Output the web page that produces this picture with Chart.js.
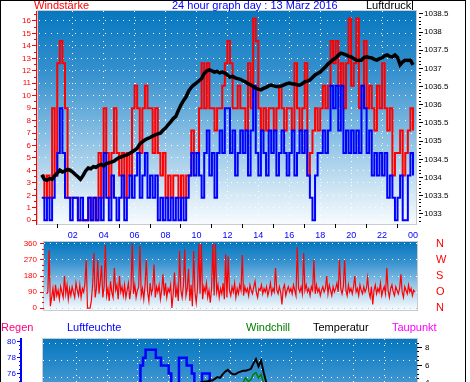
<!DOCTYPE html>
<html lang="de">
<head>
<meta charset="UTF-8">
<title>24 hour graph</title>
<script src="https://cdn.jsdelivr.net/npm/chart.js"></script>
<style>
    html, body { margin: 0; padding: 0; overflow: hidden; width: 470px; height: 382px; background: #fff; }
    body { font-family: "Liberation Sans", Arial, sans-serif; position: relative; }
    #frame { position: absolute; left: 0; top: 0; width: 466px; height: 420px; box-sizing: border-box;
             border: 1px solid #000; border-bottom: none; }
    canvas { position: absolute; left: 0; }
    .lbl { position: absolute; font-size: 11px; line-height: 11px; white-space: nowrap; }
</style>
</head>
<body>
<div id="frame"></div>
<canvas id="topChart" width="466" height="240" style="top:0"></canvas>
<canvas id="dirChart" width="466" height="88" style="top:232px"></canvas>
<canvas id="climaChart" width="466" height="144" style="top:330px"></canvas>

<div class="lbl" style="left:34px;top:0;color:#ff0000">Windstärke</div>
<div class="lbl" style="left:172px;top:0;color:#0000ff">24 hour graph day : 13 März 2016</div>
<div class="lbl" style="left:366px;top:0;color:#000">Luftdruck</div>
<div style="position:absolute;left:412px;top:0;width:1px;height:10px;background:#000"></div>

<div class="lbl" style="left:1px;top:322px;color:#ff0080">Regen</div>
<div class="lbl" style="left:67px;top:322px;color:#0000ff">Luftfeuchte</div>
<div class="lbl" style="left:246px;top:322px;color:#008000">Windchill</div>
<div class="lbl" style="left:313px;top:322px;color:#000">Temperatur</div>
<div class="lbl" style="left:392px;top:322px;color:#ff00ff">Taupunkt</div>

<script>
// minutes between samples (00:00 .. 24:00)
const STEP = 10;
const DIR_STEP = 5;

const timeLabels = ['02', '04', '06', '08', '10', '12', '14', '16', '18', '20', '22', '00'];
const windTicks = [0, 1, 2, 3, 4, 5, 6, 7, 8, 9, 10, 11, 12, 13, 14, 15, 16];
const pressureTicks = [1033, 1033.5, 1034, 1034.5, 1035, 1035.5, 1036, 1036.5, 1037, 1037.5, 1038, 1038.5];
const dirTicks = [0, 90, 180, 270, 360];
const dirLabels = ['N', 'O', 'S', 'W', 'N'];
const humTicks = [66, 68, 70, 72, 74, 76, 78, 80];
const tempTicks = [-4, -2, 0, 2, 4, 6, 8];

// Windstärke (Böen, rot)
const windGust = [
    3.6, 1.8, 3.6, 1.8, 9, 3.6,   12.6, 14.4, 12.6, 9, 1.8, 1.8,
    1.8, 1.8, 0, 0, 0, 0,         1.8, 0, 1.8, 0, 5.4, 1.8,
    9, 5.4, 1.8, 5.4, 9, 5.4,     3.6, 5.4, 1.8, 5.4, 3.6, 9,
    10.8, 9, 5.4, 9, 10.8, 9,     9, 5.4, 9, 5.4, 3.6, 5.4,
    1.8, 3.6, 1.8, 3.6, 3.6, 1.8, 3.6, 1.8, 3.6, 3.6, 7.2, 5.4,
    5.4, 9, 12.6, 9, 12.6, 9,     9, 7.2, 9, 9, 10.8, 12.6,
    14.4, 12.6, 9, 9, 10.8, 9,    9, 7.2, 12.6, 9, 16.2, 14.4,
    9, 7.2, 9, 7.2, 9, 9,         7.2, 9, 10.8, 9, 7.2, 9,
    9, 7.2, 12.6, 9, 7.2, 9,      12.6, 3.6, 5.4, 7.2, 9, 7.2,
    9, 10.8, 9, 10.8, 14.4, 12.6, 14.4, 10.8, 12.6, 9, 12.6, 16.2,
    10.8, 12.6, 16.2, 9, 10.8, 14.4, 9, 10.8, 9, 7.2, 10.8, 9,
    12.6, 9, 7.2, 9, 3.6, 5.4,    5.4, 7.2, 3.6, 5.4, 7.2, 9,
    7.2
];

// Windstärke (Mittel, blau)
const windAvg = [
    1.8, 0, 1.8, 0, 1.8, 3.6,     5.4, 9, 5.4, 1.8, 1.8, 0,
    1.8, 1.8, 0, 1.8, 0, 0,       1.8, 0, 1.8, 0, 1.8, 0,
    5.4, 1.8, 0, 3.6, 1.8, 0,     1.8, 3.6, 0, 1.8, 3.6, 1.8,
    3.6, 5.4, 1.8, 3.6, 5.4, 1.8, 3.6, 1.8, 3.6, 0, 1.8, 0,
    1.8, 0, 1.8, 0, 1.8, 0,       1.8, 0, 1.8, 3.6, 5.4, 3.6,
    5.4, 3.6, 1.8, 5.4, 7.2, 3.6, 5.4, 1.8, 5.4, 7.2, 5.4, 9,
    9, 5.4, 7.2, 3.6, 5.4, 7.2,   5.4, 7.2, 3.6, 7.2, 10.8, 5.4,
    3.6, 7.2, 5.4, 3.6, 7.2, 5.4, 7.2, 3.6, 5.4, 7.2, 5.4, 3.6,
    5.4, 7.2, 3.6, 5.4, 7.2, 5.4, 7.2, 3.6, 1.8, 0, 3.6, 5.4,
    5.4, 7.2, 5.4, 7.2, 10.8, 9,  10.8, 7.2, 10.8, 5.4, 7.2, 5.4,
    7.2, 5.4, 7.2, 5.4, 10.8, 9,  5.4, 7.2, 3.6, 5.4, 3.6, 5.4,
    3.6, 5.4, 1.8, 3.6, 1.8, 0,   1.8, 3.6, 0, 0, 3.6, 5.4,
    3.6
];

// Luftdruck hPa
const pressure = [
    1034.07, 1033.95, 1033.92, 1033.97, 1033.95, 1034.05, 1034.12, 1034.2, 1034.15, 1034.18, 1034.22, 1034.2,
    1034.15, 1034.08, 1034.02, 1033.95, 1034.05, 1034.18, 1034.26, 1034.24, 1034.3, 1034.28, 1034.33, 1034.36,
    1034.32, 1034.38, 1034.4, 1034.42, 1034.45, 1034.5, 1034.55, 1034.57, 1034.6, 1034.62, 1034.66, 1034.7,
    1034.75, 1034.8, 1034.92, 1034.98, 1035.03, 1035.07, 1035.1, 1035.14, 1035.17, 1035.2, 1035.22, 1035.3,
    1035.36, 1035.45, 1035.53, 1035.62, 1035.68, 1035.85, 1036.0, 1036.12, 1036.22, 1036.38, 1036.48, 1036.55,
    1036.6, 1036.66, 1036.72, 1036.86, 1036.93, 1036.96, 1036.93, 1036.9, 1036.92, 1036.88, 1036.9, 1036.87,
    1036.82, 1036.76, 1036.78, 1036.74, 1036.72, 1036.7, 1036.66, 1036.63, 1036.58, 1036.55, 1036.5, 1036.46,
    1036.43, 1036.41, 1036.45, 1036.48, 1036.52, 1036.54, 1036.52, 1036.5, 1036.5, 1036.52, 1036.55, 1036.58,
    1036.6, 1036.58, 1036.57, 1036.55, 1036.54, 1036.58, 1036.63, 1036.65, 1036.68, 1036.75, 1036.82, 1036.86,
    1036.9, 1036.97, 1037.04, 1037.12, 1037.18, 1037.24, 1037.29, 1037.36, 1037.42, 1037.4, 1037.37, 1037.34,
    1037.32, 1037.27, 1037.23, 1037.22, 1037.23, 1037.3, 1037.32, 1037.3, 1037.29, 1037.25, 1037.23, 1037.27,
    1037.29, 1037.35, 1037.37, 1037.33, 1037.32, 1037.37, 1037.3, 1037.1, 1037.18, 1037.23, 1037.22, 1037.23,
    1037.1
];

// Windrichtung in Grad, alle 5 Minuten
const windDir = [
    80, 90, 325, 10, 60, 110, 40, 130, 70, 100, 50, 120,
    90, 60, 180, 80, 130, 50, 110, 70, 120, 90, 60, 140,
    100, 70, 130, 60, 110, 90, 140, 270, 0, 0, 0, 40,
    130, 311, 60, 110, 270, 80, 150, 240, 60, 120, 354, 70,
    110, 40, 150, 90, 60, 225, 100, 130, 50, 180, 90, 120,
    70, 130, 60, 100, 140, 50, 110, 360, 80, 130, 60, 100,
    120, 350, 70, 110, 50, 130, 270, 90, 40, 140, 80, 110,
    245, 60, 120, 90, 130, 50, 100, 190, 70, 140, 60, 110,
    90, 130, 0, 80, 200, 60, 120, 40, 320, 100, 60, 130,
    330, 70, 110, 220, 40, 130, 10, 320, 90, 30, 110, 360,
    80, 360, 50, 120, 90, 140, 60, 100, 30, 110, 360, 70,
    360, 90, 130, 60, 110, 80, 140, 50, 300, 60, 290, 100,
    70, 120, 90, 140, 60, 110, 80, 130, 100, 298, 70, 120,
    90, 110, 70, 130, 100, 80, 120, 150, 90, 60, 110, 100,
    130, 80, 110, 90, 120, 70, 100, 140, 80, 110, 90, 225,
    100, 80, 120, 90, 20, 110, 130, 70, 100, 120, 90, 110,
    80, 130, 100, 70, 341, 110, 90, 120, 80, 309, 100, 130,
    90, 110, 70, 120, 100, 270, 80, 130, 90, 110, 70, 100,
    120, 90, 110, 180, 80, 130, 100, 70, 120, 90, 110, 140,
    90, 270, 110, 80, 120, 270, 100, 70, 130, 90, 110, 80,
    120, 180, 90, 110, 70, 130, 100, 80, 120, 90, 110, 170,
    90, 60, 120, 20, 100, 130, 80, 110, 90, 140, 70, 100,
    120, 80, 225, 100, 60, 110, 130, 90, 70, 120, 100, 80,
    110, 190, 90, 60, 120, 100, 80, 130, 90, 110, 70, 100,
    90
];

// Luftfeuchte %
const humidity = [
    73, 73, 73, 74, 74, 74, 74, 74, 73, 73, 73, 73,
    73, 73, 74, 74, 74, 74, 74, 74, 74, 74, 74, 74,
    74, 74, 74, 74, 74, 74, 74, 74, 74, 74, 74, 74,
    74, 77, 78, 79, 79, 79, 79, 78, 78, 77, 77, 77,
    76, 74, 74, 74, 78, 78, 78, 77, 77, 76, 74, 74,
    74, 76, 76, 76, 74, 74, 73, 73, 72, 72, 71, 71,
    70, 70, 69, 69, 68, 68, 67, 67, 66, 66, 66, 65,
    65, 65, 64, 64, 64, 64, 63, 63, 63, 63, 63, 63,
    63, 64, 64, 64, 64, 65, 65, 65, 66, 66, 66, 67,
    67, 67, 68, 68, 68, 69, 69, 69, 70, 70, 70, 70,
    71, 71, 71, 71, 72, 72, 72, 72, 72, 73, 73, 73,
    73, 73, 73, 74, 74, 74, 74, 74, 74, 74, 74, 74,
    74
];

// Temperatur °C
const temperature = [
    1.5, 1.4, 1.4, 1.3, 1.2, 1.2, 1.1, 1.0, 1.0, 0.9, 0.9, 0.8,
    0.8, 0.7, 0.7, 0.6, 0.6, 0.5, 0.5, 0.5, 0.4, 0.4, 0.4, 0.3,
    0.3, 0.3, 0.3, 0.4, 0.4, 0.5, 0.5, 0.6, 0.7, 0.8, 0.9, 1.0,
    1.1, 1.2, 1.4, 1.5, 1.7, 1.9, 2.0, 2.2, 2.4, 2.5, 2.7, 2.9,
    3.0, 3.1, 3.2, 3.3, 3.4, 3.5, 3.6, 3.7, 3.8, 3.9, 4.0, 4.0,
    4.1, 4.1, 4.2, 4.2, 4.3, 4.3, 4.5, 4.7, 4.6, 5.0, 5.3, 5.5,
    5.2, 5.0, 5.0, 5.2, 5.3, 5.4, 5.4, 5.5, 5.6, 6.2, 6.7, 5.9,
    6.5, 5.2, 4.1, 3.9, 3.8, 3.7, 3.6, 3.6, 3.5, 3.4, 3.4, 3.3,
    3.3, 3.2, 3.1, 3.0, 2.9, 2.8, 2.7, 2.6, 2.5, 2.4, 2.3, 2.2,
    2.1, 2.0, 1.9, 1.8, 1.7, 1.6, 1.5, 1.4, 1.3, 1.2, 1.1, 1.0,
    0.9, 0.9, 0.8, 0.8, 0.7, 0.7, 0.6, 0.6, 0.5, 0.5, 0.4, 0.4,
    0.3, 0.3, 0.3, 0.2, 0.2, 0.2, 0.1, 0.1, 0.1, 0.0, 0.0, 0.0,
    0.0
];

// Windchill °C
const windchill = [
    -0.5, -0.8, -0.6, -0.9, -1.0, -0.8, -1.2, -1.4, -1.1, -0.9, -0.7, -0.8,
    -0.9, -1.2, -1.0, -1.0, -1.1, -1.3, -1.1, -1.0, -1.2, -1.1, -1.4, -1.2,
    -1.5, -1.3, -1.2, -1.4, -1.3, -1.1, -1.2, -1.0, -0.8, -1.0, -0.7, -0.9,
    -0.8, -0.6, -0.4, -0.3, -0.2, 0.2, 0.3, 0.4, 0.8, 1.0, 1.1, 1.4,
    1.6, 1.8, 1.9, 2.0, 2.1, 2.3, 2.4, 2.5, 2.6, 2.8, 2.9, 3.0,
    3.0, 3.1, 3.2, 3.2, 3.3, 3.3, 3.4, 3.5, 3.5, 3.7, 3.9, 4.0,
    3.9, 3.8, 3.8, 3.9, 4.0, 4.1, 4.6, 4.2, 4.4, 5.0, 5.2, 4.6,
    5.0, 4.0, 3.2, 3.0, 2.9, 2.8, 2.7, 2.6, 2.5, 2.4, 2.3, 2.2,
    2.1, 2.0, 1.9, 1.8, 1.7, 1.6, 1.5, 1.4, 1.3, 1.2, 1.1, 1.0,
    0.9, 0.8, 0.7, 0.6, 0.5, 0.4, 0.3, 0.2, 0.1, 0.0, -0.1, -0.2,
    -0.3, -0.3, -0.4, -0.4, -0.5, -0.5, -0.6, -0.6, -0.7, -0.7, -0.8, -0.8,
    -0.9, -0.9, -0.9, -1.0, -1.0, -1.0, -1.1, -1.1, -1.1, -1.2, -1.2, -1.2,
    -1.2
];

// Taupunkt °C
const dewpoint = [
    -2.3, -2.3, -2.3, -2.2, -2.2, -2.2, -2.3, -2.3, -2.4, -2.4, -2.5, -2.5,
    -2.6, -2.6, -2.6, -2.6, -2.7, -2.7, -2.7, -2.7, -2.8, -2.8, -2.8, -2.8,
    -2.8, -2.8, -2.8, -2.7, -2.7, -2.6, -2.6, -2.5, -2.4, -2.3, -2.2, -2.1,
    -2.0, -1.7, -1.4, -1.2, -1.0, -0.8, -0.7, -0.7, -0.6, -0.6, -0.4, -0.2,
    -0.3, -0.4, -0.3, -0.2, 0.0, 0.0, 0.1, 0.1, 0.2, 0.2, 0.1, 0.1,
    0.2, 0.3, 0.4, 0.4, 0.3, 0.3, 0.3, 0.4, 0.2, 0.4, 0.5, 0.6,
    0.3, 0.1, -0.1, 0.0, -0.1, -0.1, -0.2, -0.2, -0.3, 0.2, 0.5, -0.1,
    0.3, -0.8, -1.6, -1.8, -2.0, -2.1, -2.3, -2.3, -2.4, -2.5, -2.6, -2.7,
    -2.8, -2.8, -2.9, -3.0, -3.1, -3.0, -3.1, -3.2, -3.2, -3.3, -3.4, -3.3,
    -3.4, -3.5, -3.4, -3.5, -3.6, -3.5, -3.6, -3.7, -3.7, -3.8, -3.9, -4.0,
    -4.0, -4.0, -4.1, -4.1, -4.0, -4.1, -4.1, -4.2, -4.2, -4.1, -4.2, -4.2,
    -4.3, -4.3, -4.3, -4.2, -4.2, -4.2, -4.3, -4.3, -4.3, -4.4, -4.4, -4.4,
    -4.4
];

// ---- helpers ----
const toPoints = (arr, step = STEP) => arr.map((v, i) => ({ x: i * step, y: v }));
const ticksFrom = list => scale => { scale.ticks = list.map(v => ({ value: v })); };
const steps = (from, to, by) => {
    const out = [];
    for (let k = Math.round(from / by); k <= Math.round(to / by); k++) out.push(+(k * by).toFixed(3));
    return out;
};
const hourMarks = steps(0, 1440, 60);
const isEvenHour = v => v % 120 === 0 && v > 0 && v < 1440;
const clear = 'rgba(0,0,0,0)';
const DOTS = [1, 5];

const spacer = (position, weight, width) => ({
    position, weight, min: 0, max: 1,
    afterFit: s => { s.width = width; },
    ticks: { display: false }, grid: { display: false }, border: { display: false }
});
const minorAxis = (position, weight, min, max, list, color) => ({
    position, weight, min, max,
    afterBuildTicks: ticksFrom(list),
    afterFit: s => { s.width = 0; },
    ticks: { display: false },
    grid: { drawOnChartArea: false, tickColor: color, tickLength: 2 },
    border: { display: false }
});

const plotBackground = {
    id: 'plotBackground',
    beforeDraw(chart) {
        const { ctx, chartArea: a } = chart;
        const g = ctx.createLinearGradient(0, a.top, 0, a.bottom);
        g.addColorStop(0, '#0677bf');
        g.addColorStop(0.3, '#3892cf');
        g.addColorStop(0.6, '#8cc1e4');
        g.addColorStop(0.85, '#d2e7f5');
        g.addColorStop(1, '#f7fbfe');
        ctx.save();
        ctx.fillStyle = g;
        ctx.fillRect(a.left, a.top, a.right - a.left, a.bottom - a.top);
        ctx.strokeStyle = '#c8ccd0';
        ctx.lineWidth = 1;
        ctx.strokeRect(a.left - 0.5, a.top - 0.5, a.right - a.left + 1, a.bottom - a.top + 1);
        ctx.restore();
    }
};

Chart.defaults.font.family = '"Liberation Sans", Arial, sans-serif';
Chart.defaults.font.size = 8;

const common = {
    responsive: false,
    animation: false,
    events: [],
    plugins: { legend: { display: false }, tooltip: { enabled: false } },
    elements: { point: { radius: 0 }, line: { tension: 0 } }
};

// ---- Windstärke / Luftdruck ----
new Chart(document.getElementById('topChart'), {
    type: 'line',
    data: {
        datasets: [
            { label: 'Luftdruck', data: toPoints(pressure), yAxisID: 'yp', borderColor: '#000', borderWidth: 3.5, order: 1 },
            { label: 'Wind', data: toPoints(windAvg), yAxisID: 'y', borderColor: '#0000ff', borderWidth: 2, stepped: true, order: 2 },
            { label: 'Böen', data: toPoints(windGust), yAxisID: 'y', borderColor: '#ff0000', borderWidth: 2, stepped: true, order: 3 }
        ]
    },
    options: {
        ...common,
        layout: { padding: { top: 11, left: 0, right: 0, bottom: 0 } },
        scales: {
            x: {
                type: 'linear', min: -14.7, max: 1451.6,
                afterBuildTicks: ticksFrom(hourMarks),
                afterFit: s => { s.height = 16; },
                ticks: {
                    autoSkip: false, maxRotation: 0, color: '#0000ff', font: { size: 9 }, padding: 2,
                    callback: v => (v % 120 === 0 && v > 0) ? timeLabels[v / 120 - 1] : ''
                },
                grid: {
                    color: c => c.tick && isEvenHour(c.tick.value) ? '#ffffff' : clear,
                    tickColor: c => c.tick && c.tick.value % 120 === 60 ? '#000' : clear,
                    tickLength: 4
                },
                border: { display: false, dash: DOTS }
            },
            y: {
                position: 'left', weight: 2, min: -0.3, max: 16.8,
                afterBuildTicks: ticksFrom(windTicks),
                afterFit: s => { s.width = 36; },
                ticks: { color: '#ff0000', padding: 1, autoSkip: false },
                grid: { color: '#ffffff', tickColor: '#ff0000', tickLength: 4 },
                border: { display: true, color: '#ff0000', width: 1, dash: DOTS }
            },
            yMinor: minorAxis('left', 1, -0.3, 16.8, steps(0, 16.5, 0.5), '#ff0000'),
            ySp: spacer('left', 0, 2),
            ySpR: spacer('right', 0, 3),
            ypMinor: minorAxis('right', 1, 1032.72, 1038.58, steps(1032.8, 1038.5, 0.1), '#000'),
            yp: {
                position: 'right', weight: 2, min: 1032.72, max: 1038.58,
                afterBuildTicks: ticksFrom(pressureTicks),
                afterFit: s => { s.width = 47; },
                ticks: { color: '#000', padding: 1, autoSkip: false, callback: v => String(v) },
                grid: { drawOnChartArea: false, tickColor: '#000', tickLength: 4 },
                border: { display: false }
            }
        }
    },
    plugins: [plotBackground]
});

// ---- Windrichtung ----
new Chart(document.getElementById('dirChart'), {
    type: 'line',
    data: {
        datasets: [
            { label: 'Windrichtung', data: toPoints(windDir, DIR_STEP), yAxisID: 'y', borderColor: '#ff0000', borderWidth: 1.2 }
        ]
    },
    options: {
        ...common,
        layout: { padding: { top: 10, left: 0, right: 0, bottom: 10 } },
        scales: {
            x: { type: 'linear', min: -10, max: 1448, display: false },
            y: {
                position: 'left', weight: 1, min: -11, max: 371,
                afterBuildTicks: ticksFrom(dirTicks),
                afterFit: s => { s.width = 44; },
                ticks: { color: '#ff0000', padding: 3, autoSkip: false },
                grid: { color: c => c.tick && c.tick.value === 0 ? '#c0c4c8' : '#ffffff', tickColor: '#ff0000', tickLength: 4 },
                border: { display: false, dash: DOTS }
            },
            yMinor: minorAxis('left', 0, -11, 371, steps(0, 360, 30), '#ff0000'),
            yR: {
                position: 'right', weight: 0, min: -11, max: 371,
                afterBuildTicks: ticksFrom(dirTicks),
                afterFit: s => { s.width = 49; },
                ticks: { color: '#ff0000', font: { size: 11 }, padding: 2, autoSkip: false,
                         callback: v => dirLabels[dirTicks.indexOf(v)] },
                grid: { drawOnChartArea: false, tickColor: clear, tickLength: 17 },
                border: { display: false }
            }
        }
    },
    plugins: [plotBackground]
});

// ---- Luftfeuchte / Temperatur ----
new Chart(document.getElementById('climaChart'), {
    type: 'line',
    data: {
        datasets: [
            { label: 'Temperatur', data: toPoints(temperature), yAxisID: 'yt', borderColor: '#000', borderWidth: 2, order: 1 },
            { label: 'Windchill', data: toPoints(windchill), yAxisID: 'yt', borderColor: '#008000', borderWidth: 1.5, order: 2 },
            { label: 'Taupunkt', data: toPoints(dewpoint), yAxisID: 'yt', borderColor: '#ff00ff', borderWidth: 1.5, order: 3 },
            { label: 'Luftfeuchte', data: toPoints(humidity), yAxisID: 'yh', borderColor: '#0000ff', borderWidth: 2.5, stepped: true, order: 4 }
        ]
    },
    options: {
        ...common,
        layout: { padding: { top: 9, left: 0, right: 0, bottom: 0 } },
        scales: {
            x: {
                type: 'linear', min: -9.7, max: 1447.4,
                afterBuildTicks: ticksFrom(hourMarks),
                afterFit: s => { s.height = 0; },
                ticks: { display: false },
                grid: { color: c => c.tick && isEvenHour(c.tick.value) ? '#ffffff' : clear, drawTicks: false },
                border: { display: false, dash: DOTS }
            },
            yg: {
                position: 'left', weight: 0, min: -7.206, max: 0.294,
                afterBuildTicks: ticksFrom(steps(-7, 0, 1)),
                afterFit: s => { s.width = 22; },
                ticks: { display: false },
                grid: { color: '#ffffff', drawTicks: false },
                border: { display: false, dash: DOTS }
            },
            yhMinor: minorAxis('left', 1, 64.29, 80.357, steps(64.5, 80, 0.5), '#0000ff'),
            yh: {
                position: 'left', weight: 2, min: 64.29, max: 80.357,
                afterBuildTicks: ticksFrom(humTicks),
                afterFit: s => { s.width = 21; },
                ticks: { color: '#0000ff', padding: 1, autoSkip: false },
                grid: { drawOnChartArea: false, tickColor: '#0000ff', tickLength: 4 },
                border: { display: true, color: '#0000ff', width: 2 }
            },
            ytMinor: minorAxis('right', 0, -5.26, 8.947, steps(-5, 8.5, 0.5), '#000'),
            yt: {
                position: 'right', weight: 1, min: -5.26, max: 8.947,
                afterBuildTicks: ticksFrom(tempTicks),
                afterFit: s => { s.width = 49; },
                ticks: { color: '#000', padding: 3, autoSkip: false },
                grid: { drawOnChartArea: false, tickColor: '#000', tickLength: 5 },
                border: { display: false }
            }
        }
    },
    plugins: [plotBackground]
});
</script>
</body>
</html>
